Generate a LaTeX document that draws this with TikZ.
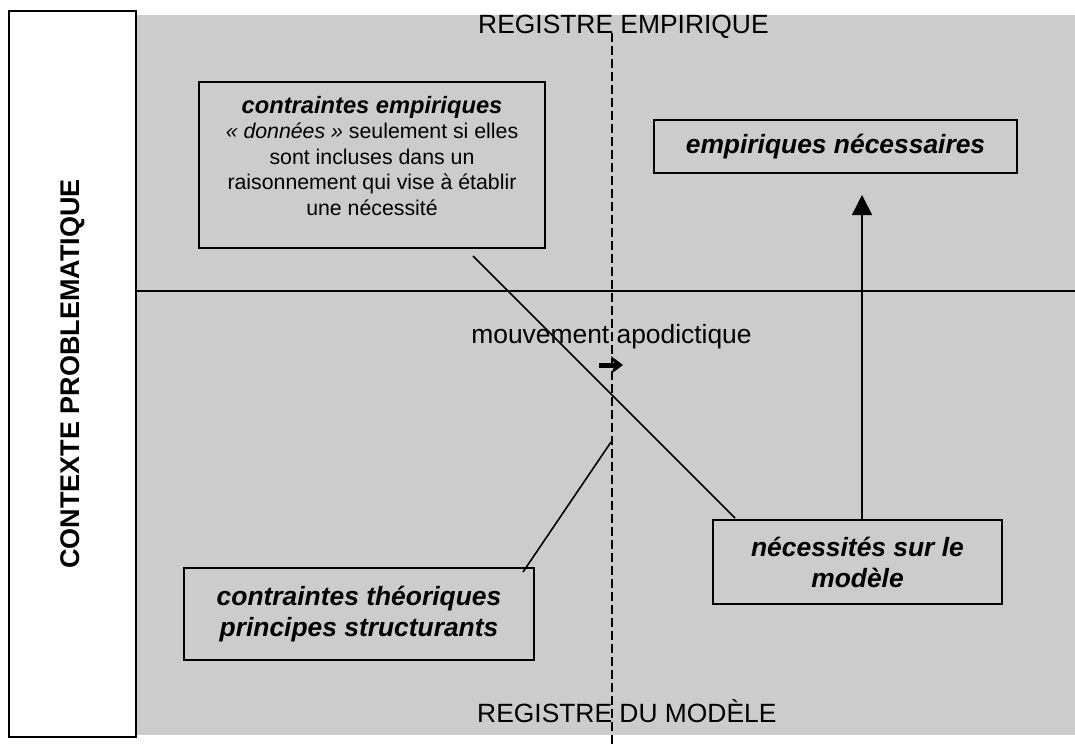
\documentclass[tikz,border=0pt]{standalone}
\usepackage{fontspec}
\setmainfont{Liberation Sans}
\usetikzlibrary{arrows.meta,calc}
\definecolor{panel}{HTML}{CCCCCC}
\begin{document}
\begin{tikzpicture}[x=1pt,y=-1pt,
  boxstyle/.style={draw=black,line width=2pt,fill=panel,inner sep=0pt,align=center},
  lbl/.style={font=\fontsize{26.4}{30}\selectfont,inner sep=0pt},
  bi/.style={font=\fontsize{26.4}{31}\selectfont\bfseries\itshape},
  link/.style={line width=1.6pt,draw=black}]
\useasboundingbox (0,0) rectangle (1075,745);
% grey panel
\fill[panel] (136,15) rectangle (1075,735);
% left box
\node[draw=black,line width=2pt,fill=white,rotate=90,minimum width=726pt,minimum height=127pt,inner sep=0pt,
      font=\fontsize{27}{30}\selectfont\bfseries] (ctx) at (72.5,374) {CONTEXTE PROBLEMATIQUE};
% horizontal separator
\coordinate (h1) at (136,291);
\coordinate (h2) at (1075,291);
\draw[line width=2pt] (h1) -- (h2);
% labels
\node[lbl,anchor=base west] (re) at (478,33) {REGISTRE EMPIRIQUE};
\node[lbl,anchor=base west] (rm) at (477,722) {REGISTRE DU MODÈLE};
\node[lbl,anchor=base] (mv) at (611.5,343) {mouvement apodictique};
% dashed vertical line
\coordinate (v1) at (612,33);
\coordinate (v2) at (612,745);
\draw[line width=1.5pt,dash pattern=on 9pt off 4pt] (v1) -- (v2);
% boxes
\node[boxstyle,minimum width=346pt,minimum height=166pt] (ce) at (372,165) {};
\node[font=\fontsize{21.3}{25.5}\selectfont,align=center,anchor=north,inner sep=0pt] (cet) at (372,96)
  {{\fontsize{23.7}{25.5}\selectfont\bfseries\itshape contraintes empiriques}\\
   \textit{« données »} seulement si elles\\
   sont incluses dans un\\
   raisonnement qui vise à établir\\
   une nécessité};
\node[boxstyle,bi,minimum width=363pt,minimum height=53pt] (en) at (835.5,146.5) {empiriques nécessaires};
\node[boxstyle,bi,minimum width=289pt,minimum height=84pt] (nm) at (857.5,562) {nécessités sur le\\modèle};
\node[boxstyle,bi,minimum width=350pt,minimum height=92pt] (ct) at (359,614) {contraintes théoriques\\principes structurants};
% connectors
\coordinate (atop) at (862,195);
\draw[link,-{Triangle[length=20pt,width=20pt]}] (nm.north -| atop) -- (atop);
\coordinate (d1) at (473,256);
\coordinate (d2) at (735,518);
\draw[link] (d1) -- (d2);
\coordinate (l1) at (523,572);
\coordinate (l2) at (611,442);
\draw[link] (l1) -- (l2);
% small arrow
\coordinate (ma1) at (599,365);
\coordinate (ma2) at (623,365);
\draw[line width=5pt,-{Stealth[length=12pt,width=18pt,inset=4pt]}] (ma1) -- (ma2);
\end{tikzpicture}
\end{document}
